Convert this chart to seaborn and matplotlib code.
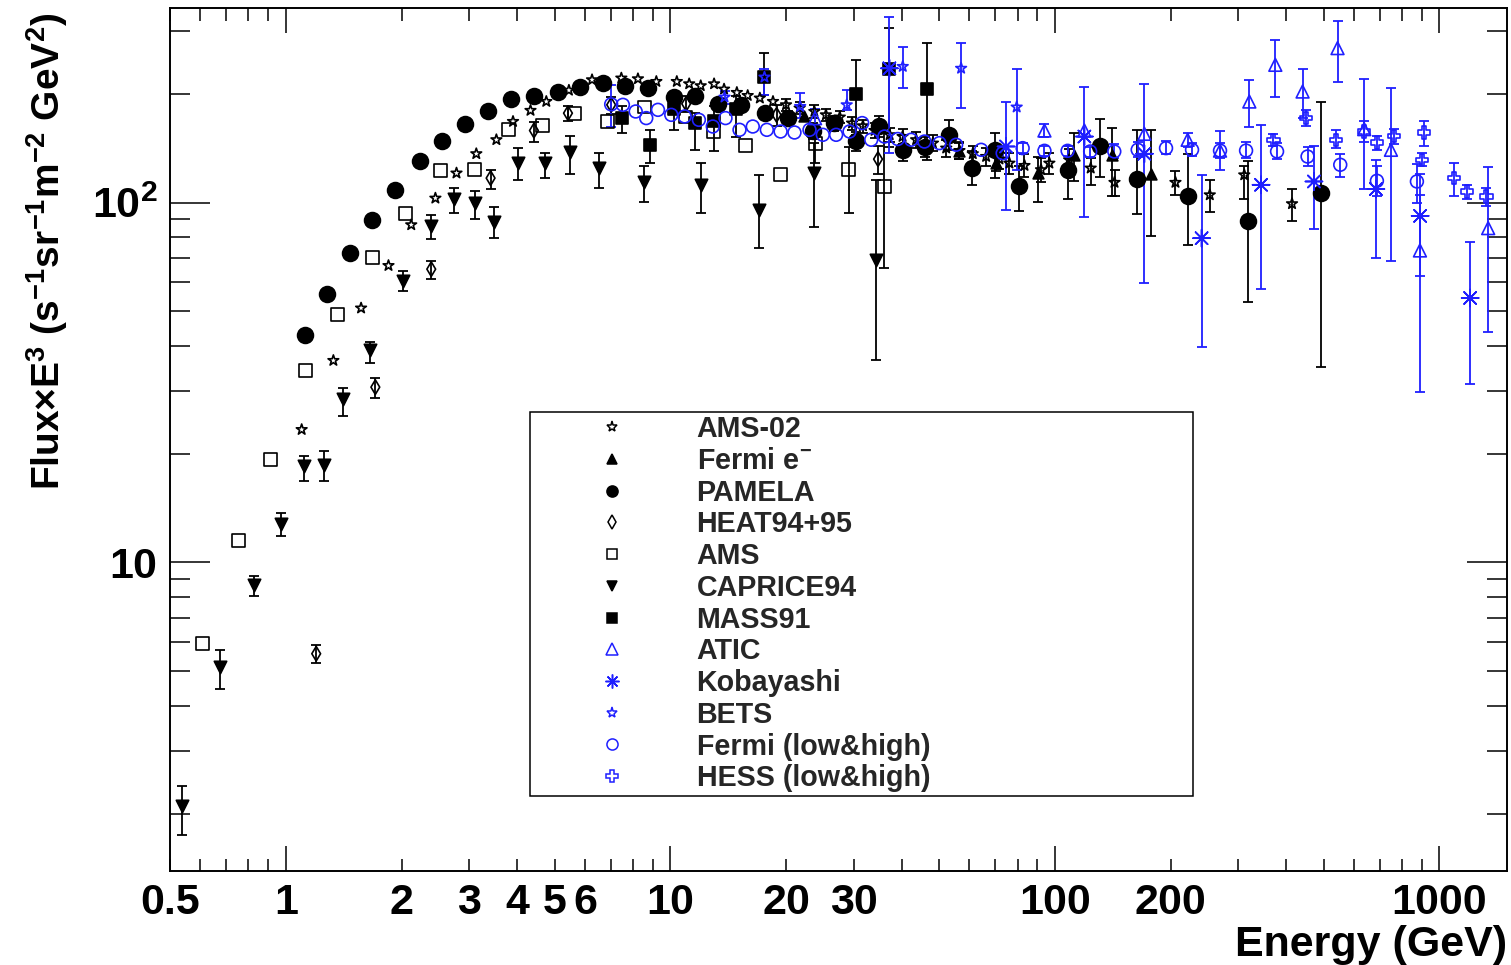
import numpy as np
import pandas as pd
import matplotlib
matplotlib.use("Agg")
import matplotlib.pyplot as plt
from matplotlib.lines import Line2D
import seaborn as sns

nan = np.nan

# ---------------- data: energy (GeV), flux x E^3, lower / upper error ends ----------------
ams02_E = [1.10, 1.33, 1.57, 1.85, 2.12, 2.45, 2.78, 3.13, 3.53, 3.90, 4.33, 4.76, 5.45, 6.26, 7.46,
           8.24, 9.20, 10.4, 11.2, 12.0, 13.0, 13.8, 14.9, 15.9, 17.1, 18.5, 20.0, 21.7, 23.7, 25.4,
           27.6, 29.7, 31.7, 34.0, 37.2, 40.2, 43.6, 48.2, 52.2, 56.5, 61.2, 66.3, 71.8, 76.2, 83.4,
           92.1, 96.8, 109, 124, 143, 206, 253, 311, 414]
ams02_F = [23.4, 36.4, 50.9, 66.8, 86.7, 102.8, 120.7, 136.6, 149.4, 167.9, 180.2, 190.8, 205, 219.2, 221.6,
           220.6, 216.8, 216.8, 213.6, 211.0, 213.6, 206.5, 202.1, 198.2, 195.0, 190.8, 186.8, 182.9, 179.0, 175.2,
           172.7, 166.2, 163.3, 158.5, 154.2, 152.5, 149.4, 146.2, 141.6, 139.4, 136.6, 134.2, 132.0, 128.6, 126.7,
           123.3, 128.6, 131.4, 124.6, 113.7, 113.7, 105.0, 119.3, 99.2]
ams02_lo = [nan] * 26 + [180, 176, 172, 168, 166, 159, 156, 151, 147, 145, 142, 139, 134, 132, 129, 126,
                         124, 120, 118, 114, 120, 122, 112, 104, 105, 94.4, 102, 89]
ams02_hi = [nan] * 26 + [194, 190, 186, 182, 180, 173, 170, 166, 161, 160, 157, 154, 149, 147, 144, 142,
                         140, 137, 136, 133, 137, 141, 133, 123, 122.7, 115.6, 126.7, 109]

fermi_em_E = [22.3, 56.5, 70.4, 90.3, 112, 141, 178]
fermi_em_F = [174.1, 138.6, 129.1, 120.7, 135.7, 135.7, 120.2]
fermi_em_lo = [nan, 132, 122, 100.6, 114.4, 104.4, 80.9]
fermi_em_hi = [nan, 146, 137, 134.2, 155.8, 160.6, 159]

pamela_E = [1.12, 1.28, 1.47, 1.68, 1.92, 2.23, 2.55, 2.93, 3.36, 3.85, 4.41, 5.10, 5.84, 6.68, 7.64,
            8.75, 10.2, 11.6, 13.3, 15.3, 17.6, 20.3, 23.5, 26.6, 30.5, 34.9, 40.4, 46.0, 53.0, 60.8,
            70.1, 80.9, 108, 131, 164, 222, 319, 492]
pamela_F = [42.9, 55.8, 72.6, 89.5, 108, 130, 148, 165, 179, 194, 198, 203, 209, 215, 211,
            208, 197, 198, 188, 186, 177, 172, 158, 166, 148, 163, 140, 143, 154, 125,
            140, 111, 123, 144, 116, 104, 89, 106]
pamela_lo = [nan] * 21 + [165, 150, 158, 139, 152, 130, 134, 140, 112, 117, 95, 102, 118, 93, 76, 53, 35]
pamela_hi = [nan] * 21 + [180, 166, 174, 157, 174, 154, 152, 169, 139, 156, 126, 144, 171, 159, 136, 130, 190]

heat_E = [1.20, 1.71, 2.39, 3.41, 4.42, 5.42, 7.02, 11.0, 18.9, 34.7]
heat_F = [5.58, 30.7, 65.3, 116.9, 158.5, 177.1, 186.8, 188, 175.2, 132]
heat_lo = [5.25, 28.6, 61.2, 109, 147.6, 168, 176, 178, 163, 120]
heat_hi = [5.91, 32.6, 69.0, 123.3, 167.3, 184.9, 197, 198, 187, 144]

ams_E = [0.606, 0.755, 0.914, 1.125, 1.363, 1.68, 2.05, 2.53, 3.09, 3.80, 4.65, 5.64, 6.87, 8.58,
         10.96, 12.96, 15.7, 19.36, 23.86, 29.13, 36.06]
ams_F = [5.97, 11.49, 19.29, 34.08, 48.76, 70.35, 93.0, 122.5, 123.8, 159.2, 163.3, 177.1, 167.9, 184.1,
         172.7, 157.5, 144.0, 119.4, 145.6, 123.8, 110.8]
ams_lo = [nan] * 18 + [129.1, 93.8, 65.7]
ams_hi = [nan] * 18 + [157.5, 143, 155.8]

caprice_E = [0.5375, 0.675, 0.826, 0.972, 1.114, 1.255, 1.409, 1.66, 2.018, 2.391, 2.734, 3.105,
             3.473, 4.017, 4.732, 5.473, 6.51, 8.54, 12.04, 16.99, 23.62, 34.18]
caprice_F = [2.1, 5.14, 8.67, 12.81, 18.48, 18.68, 28.44, 38.97, 60.36, 85.8, 102.2, 99.6,
             88.5, 129.1, 128.6, 137.7, 124.6, 113.7, 112.0, 95.4, 120.7, 69.3]
caprice_lo = [1.752, 4.45, 8.08, 11.88, 16.86, 16.86, 25.55, 35.8, 56.6, 79.1, 93.5, 89.9,
              79.6, 115.6, 116.9, 120.2, 109.7, 100.6, 93.4, 74.7, 85.4, 36.6]
caprice_hi = [2.387, 5.72, 9.18, 13.72, 19.7, 20.43, 30.5, 41.1, 64.73, 92.4, 109.6, 107.8,
              96.9, 141.5, 137.6, 153.3, 137.6, 126, 129.1, 119.4, 146.2, 115.5]

mass91_E = [7.47, 8.84, 10.2, 11.63, 12.96, 14.85, 17.58, 30.33, 37.15, 46.45]
mass91_F = [171.4, 144.7, 182.1, 166, 167.9, 181.7, 223, 200, 234.8, 206.9]
mass91_lo = [156, 128.7, 159.1, 140.1, 138.6, 152.5, 199, 154.4, 143, 131.4]
mass91_hi = [184.9, 159.1, 197.4, 177.2, 184.9, 197.4, 260, 248.4, 305, 277.6]

atic_E = [23.8, 94.0, 119.4, 171, 221.6, 269, 320.6, 374.6, 441, 543.7, 637.9, 748.6, 890.6, 1340]
atic_F = [171.5, 158.5, 158.5, 155.2, 149.4, 139.4, 190.8, 241.3, 203.4, 268.5, 159.9, 140.1, 73.6, 84.9]
atic_lo = [160, 152, nan, nan, 143, 123.2, 161.6, 197, 171.6, 215.6, 109, 69, 29.7, 43.7]
atic_hi = [182, 165, nan, nan, 156, 157.5, 219.3, 282, 235, 319.7, 220, 208, 105, 125.9]

kobayashi_E = [37.15, 74.7, 119.4, 171, 240.9, 343.9, 472.1, 684.1, 891.6, 1203]
kobayashi_F = [235.9, 143.1, 152.5, 136.6, 79.6, 112, 114.4, 109, 91.8, 54.3]
kobayashi_lo = [137, 95.4, 91.1, 59.7, 39.8, 57.6, 84.5, 70.3, 62.5, 31.4]
kobayashi_hi = [328.6, 189.6, 209, 213.1, 119.4, 164.3, 143.1, 131.4, 120, 77.5]

bets_E = [13.84, 17.58, 21.77, 28.77, 40.24, 57.07, 79.6]
bets_F = [196.2, 223, 184.8, 186.8, 238.7, 235.9, 184.1]
bets_lo = [188, 199.1, 171.7, 180.8, 207.6, 182.8, 123.2]
bets_hi = [204, 234.2, 201.7, 205.5, 271.1, 277.6, 235]

fermi_E = [7.02, 7.53, 8.13, 8.66, 9.29, 10.06, 10.9, 11.87, 12.9, 13.92, 15.14, 16.39, 17.83, 19.36,
           21.04, 23.02, 24.93, 27.0, 29.26, 31.56, 33.31, 36.06, 39.05, 42.3, 45.81, 50.12, 55.39,
           64.33, 73.2, 82.5, 94.0, 108, 123.6, 142.8, 164.3, 194.7, 227.5, 269, 314.4, 378.5, 454.4,
           552.6, 688.3, 874.6]
fermi_F = [187.4, 186.8, 179, 171.6, 180.9, 175.2, 173.4, 169.7, 162.6, 171.6, 159.2, 162.6, 159.2, 157.5,
           156.5, 159.2, 154.2, 154.2, 157.5, 166.2, 149.4, 152.5, 150.1, 149.4, 147.7, 146.2, 144.7,
           140.1, 137.1, 141.6, 139.2, 139.2, 138.6, 138.6, 140.1, 141.6, 140.1, 139.4, 139.4, 138.6, 134.2,
           127.3, 114.9, 114.4]
fermi_lo = [162.6] + [nan] * 27 + [133, 137, 135, 135, 134, 133, 134, 136, 135, 133, 133, 132, 126, 118, 104, 100]
fermi_hi = [212.4] + [nan] * 27 + [141, 146, 144, 144, 143, 145, 147, 148, 146, 146, 147, 146, 143, 136, 126, 128]

hess_E = [370.1, 450, 538.5, 637.9, 688.3, 763.3, 901.3, 913.7, 1093, 1179, 1326]
hess_F = [149.4, 171.6, 149.4, 157.5, 146.8, 153.2, 131.4, 156.5, 116.9, 107.3, 103.9]
hess_lo = [143.5, 163, 141.4, 146.9, 140, 145, 126, 143.6, 104.4, 102, 98]
hess_hi = [155, 180.8, 159.1, 167.9, 153, 160, 137, 167.9, 128.6, 112, 110]

x_major = [1, 10, 100, 1000]
x_minor = [0.5, 0.6, 0.7, 0.8, 0.9, 2, 3, 4, 5, 6, 7, 8, 9, 20, 30, 40, 50, 60, 70, 80, 90,
           200, 300, 400, 500, 600, 700, 800, 900]
x_minor_labels = ["0.5", "", "", "", "", "2", "3", "4", "5", "6", "", "", "", "20", "30",
                  "", "", "", "", "", "", "200", "", "", "", "", "", "", ""]
y_major = [10, 100]
y_major_labels = ["10", r"$10^{2}$"]
y_minor = [2, 3, 4, 5, 6, 7, 8, 9, 20, 30, 40, 50, 60, 70, 80, 90, 200, 300]

# ---------------- styling ----------------
BLACK = "#000000"
BLUE = "#1f1fff"

series = [
    ("AMS-02", ams02_E, ams02_F, ams02_lo, ams02_hi),
    (r"Fermi e$^{-}$", fermi_em_E, fermi_em_F, fermi_em_lo, fermi_em_hi),
    ("PAMELA", pamela_E, pamela_F, pamela_lo, pamela_hi),
    ("HEAT94+95", heat_E, heat_F, heat_lo, heat_hi),
    ("AMS", ams_E, ams_F, ams_lo, ams_hi),
    ("CAPRICE94", caprice_E, caprice_F, caprice_lo, caprice_hi),
    ("MASS91", mass91_E, mass91_F, mass91_lo, mass91_hi),
    ("ATIC", atic_E, atic_F, atic_lo, atic_hi),
    ("Kobayashi", kobayashi_E, kobayashi_F, kobayashi_lo, kobayashi_hi),
    ("BETS", bets_E, bets_F, bets_lo, bets_hi),
    ("Fermi (low&high)", fermi_E, fermi_F, fermi_lo, fermi_hi),
    ("HESS (low&high)", hess_E, hess_F, hess_lo, hess_hi),
]

# marker, scatter size, colour, filled, legend marker size
styles = {
    "AMS-02": ("*", 65, BLACK, False, 8),
    r"Fermi e$^{-}$": ("^", 60, BLACK, True, 7),
    "PAMELA": ("o", 130, BLACK, True, 8),
    "HEAT94+95": ("d", 55, BLACK, False, 7),
    "AMS": ("s", 85, BLACK, False, 7.5),
    "CAPRICE94": ("v", 80, BLACK, True, 7.5),
    "MASS91": ("s", 75, BLACK, True, 7.5),
    "ATIC": ("^", 85, BLUE, False, 8),
    "Kobayashi": ((8, 2, 0), 150, BLUE, False, 10),
    "BETS": ("*", 65, BLUE, False, 8),
    "Fermi (low&high)": ("o", 85, BLUE, False, 8),
    "HESS (low&high)": ("P", 80, BLUE, False, 8.5),
}

sns.set_theme(style="ticks")
plt.rcParams.update({
    "font.family": ["Liberation Sans", "DejaVu Sans"],
    "font.weight": "bold",
    "axes.labelweight": "bold",
    "mathtext.fontset": "custom",
    "mathtext.rm": "Liberation Sans:bold",
    "mathtext.bf": "Liberation Sans:bold",
    "mathtext.it": "Liberation Sans:italic:bold",
    "mathtext.sf": "Liberation Sans:bold",
    "mathtext.default": "rm",
    "axes.facecolor": "white",
    "figure.facecolor": "white",
})

fig = plt.figure(figsize=(15.11, 9.65), dpi=100)
ax = fig.add_axes([170 / 1511, 1 - 871 / 965, 1337 / 1511, 863 / 965])
ax.set_xscale("log")
ax.set_yscale("log")

handles = []
for name, E, F, lo, hi in series:
    marker, size, color, filled, lsize = styles[name]
    E = np.asarray(E, float)
    F = np.asarray(F, float)
    lo = np.asarray(lo, float)
    hi = np.asarray(hi, float)
    blue = color == BLUE
    has = ~np.isnan(lo)
    if has.any():
        ax.errorbar(E[has], F[has], yerr=[F[has] - lo[has], hi[has] - F[has]], fmt="none",
                    ecolor=color, elinewidth=1.3, capsize=3.6, capthick=1.3,
                    zorder=2.5 if blue else 2)
    df = pd.DataFrame({"E": E, "F": F})
    sns.scatterplot(data=df, x="E", y="F", ax=ax, marker=marker, s=size, color=color,
                    linewidth=1.2, legend=False, zorder=4 if blue else 3)
    coll = ax.collections[-1]
    coll.set_edgecolor(color)
    coll.set_linewidth(1.2)
    if not filled:
        coll.set_facecolor("none")
    handles.append(Line2D([], [], linestyle="none", marker=marker, markersize=lsize,
                          markerfacecolor=color if filled else "none", markeredgecolor=color,
                          markeredgewidth=1.1, label=name))

ax.set_xlim(0.5, 1500)
ax.set_ylim(1.39, 347)

ax.set_xticks(x_major, labels=[str(v) for v in x_major])
ax.set_xticks(x_minor, labels=x_minor_labels, minor=True)
ax.set_yticks(y_major, labels=y_major_labels)
ax.set_yticks(y_minor, labels=[""] * len(y_minor), minor=True)

ax.tick_params(axis="x", which="major", direction="in", length=18, width=1.1,
               top=True, bottom=True, pad=9, labelsize=31, colors=BLACK)
ax.tick_params(axis="x", which="minor", direction="in", length=9, width=1.1,
               top=True, bottom=True, pad=9, labelsize=31, colors=BLACK)
ax.tick_params(axis="y", which="major", direction="in", length=29, width=1.1,
               left=True, right=True, pad=9, labelsize=31, colors=BLACK)
ax.tick_params(axis="y", which="minor", direction="in", length=14.4, width=1.1,
               left=True, right=True, colors=BLACK)
for lab in ax.get_xticklabels(which="both") + ax.get_yticklabels():
    lab.set_fontweight("bold")

for sp in ax.spines.values():
    sp.set_visible(True)
    sp.set_linewidth(1.4)
    sp.set_color(BLACK)

ax.set_ylabel(r"Flux$\times$E$^{3}$ (s$^{-1}$sr$^{-1}$m$^{-2}$ GeV$^{2}$)", loc="top",
              fontsize=28, fontweight="bold", labelpad=16, color=BLACK)
ax.yaxis.label.set_y(0.995)
ax.set_xlabel("Energy (GeV)", loc="right", fontsize=31, fontweight="bold", labelpad=1, color=BLACK)

leg = ax.legend(handles=handles, loc="upper left",
                bbox_to_anchor=(0.2693, 0.0881, 0.4958, 0.4439), mode="expand",
                prop={"size": 20.6, "weight": "bold"}, frameon=True, fancybox=False,
                framealpha=1, edgecolor=BLACK, borderpad=0.12, labelspacing=0.13,
                handlelength=5.5, handletextpad=0.2, borderaxespad=0)
leg.get_frame().set_linewidth(1.1)
leg.set_zorder(10)

fig.savefig("out.png", dpi=100)
